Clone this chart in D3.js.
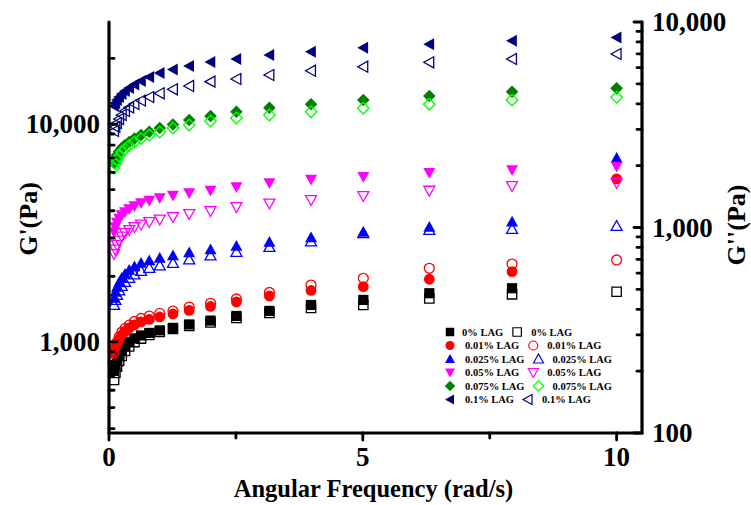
<!DOCTYPE html>
<html>
<head>
<meta charset="utf-8">
<script src="https://cdn.jsdelivr.net/npm/d3@7"></script>
<style>
  body { margin: 0; background: #fff; }
  text { font-family: "Liberation Serif", "Times New Roman", serif; font-weight: bold; fill: #000; }
</style>
</head>
<body>
<div id="chart"></div>
<script>
// Angular frequency (rad/s), 10 points per decade
const freq = [0.1, 0.126, 0.158, 0.2, 0.251, 0.316, 0.398, 0.501, 0.631, 0.794, 1,
              1.26, 1.58, 2, 2.51, 3.16, 3.98, 5.01, 6.31, 7.94, 10];

// G' (Pa), filled symbols, left axis
const gp_0    = [744, 785, 827, 872, 919, 959, 1000, 1038, 1071, 1100, 1130, 1160, 1203, 1253, 1316, 1388, 1478, 1559, 1673, 1764, null];
const gp_001  = [881, 929, 979, 1027, 1077, 1118, 1160, 1197, 1236, 1269, 1302, 1344, 1395, 1455, 1526, 1626, 1723, 1794, 1940, 2102, 5600];
const gp_0025 = [1592, 1696, 1788, 1875, 1967, 2051, 2140, 2220, 2304, 2366, 2429, 2494, 2575, 2657, 2757, 2876, 3016, 3196, 3370, 3564, 6984];
const gp_005  = [3196, 3370, 3534, 3686, 3825, 3948, 4075, 4207, 4342, 4459, 4578, 4700, 4826, 4955, 5141, 5364, 5565, 5733, 5980, 6153, 6386];
const gp_0075 = [6625, 6912, 7210, 7482, 7762, 8012, 8269, 8581, 8905, 9220, 9590, 9950, 10430, 10880, 11390, 11880, 12320, 12890, 13450, 14070, 14580];
const gp_01   = [12100, 12490, 12890, 13300, 13730, 14170, 14630, 15180, 15750, 16430, 17150, 17790, 18460, 19250, 19870, 20730, 21470, 22390, 23210, 24110, 24940];

// G'' (Pa), open symbols, right axis
const gpp_0    = [181, 196, 210, 224, 237, 251, 264, 277, 288, 300, 310, 321, 332, 345, 363, 384, 406, 420, 452, 473, 487];
const gpp_001  = [248, 262, 277, 293, 310, 323, 335, 349, 361, 371, 382, 392, 410, 428, 449, 483, 525, 566, 633, 664, 695];
const gpp_0025 = [420, 444, 469, 494, 519, 543, 568, 591, 614, 635, 653, 672, 699, 731, 760, 804, 855, 937, 972, 983, 1017];
const gpp_005  = [743, 781, 822, 864, 904, 940, 972, 1006, 1034, 1064, 1094, 1125, 1163, 1203, 1258, 1309, 1361, 1423, 1511, 1592, 1652];
const gpp_0075 = [1942, 2037, 2131, 2228, 2330, 2410, 2506, 2607, 2711, 2819, 2915, 3049, 3154, 3298, 3411, 3527, 3660, 3802, 3977, 4173, 4302];
const gpp_01   = [2948, 3084, 3225, 3373, 3527, 3689, 3837, 3990, 4150, 4315, 4498, 4705, 4883, 5124, 5281, 5523, 5794, 6060, 6366, 6607, 6987];

const labels = ["0% LAG", "0.01% LAG", "0.025% LAG", "0.05% LAG", "0.075% LAG", "0.1% LAG"];
const shapes = ["square", "circle", "up", "down", "diamond", "left"];
const fillColors = ["#000000", "#ff0000", "#0000ff", "#ff00ff", "#008000", "#000080"];
const openColors = ["#000000", "#ff0000", "#0000ff", "#ff00ff", "#00ff00", "#000080"];
const storage = [gp_0, gp_001, gp_0025, gp_005, gp_0075, gp_01];
const loss = [gpp_0, gpp_001, gpp_0025, gpp_005, gpp_0075, gpp_01];

const xTicks = [0, 5, 10], xMinor = [2.5, 7.5];
const yLeftTicks = [1000, 10000];
const yLeftMinor = [400, 500, 600, 700, 800, 900, 2000, 3000, 4000, 5000, 6000, 7000, 8000, 9000, 20000];
const yRightTicks = [100, 1000, 10000];
const yRightMinor = [200, 300, 400, 500, 600, 700, 800, 900, 2000, 3000, 4000, 5000, 6000, 7000, 8000, 9000];

const W = 751, H = 505;
const margin = {top: 22, right: 109, bottom: 72, left: 109};

const svg = d3.select("#chart").append("svg")
    .attr("width", W).attr("height", H);

const x = d3.scaleLinear().domain([0, 10.5]).range([margin.left, W - margin.right]);
const yL = d3.scaleLog().domain([382, 29400]).range([H - margin.bottom, margin.top]);
const yR = d3.scaleLog().domain([100, 10000]).range([H - margin.bottom, margin.top]);

// marker path, centred at 0,0
function shape(type, s) {
  const h = s / 2;
  switch (type) {
    case "square":  return `M${-h * 0.85},${-h * 0.85}H${h * 0.85}V${h * 0.85}H${-h * 0.85}Z`;
    case "circle":  return d3.symbol(d3.symbolCircle, Math.PI * (h * 0.9) * (h * 0.9))();
    case "up":      return `M0,${-h}L${h},${h * 0.8}L${-h},${h * 0.8}Z`;
    case "down":    return `M0,${h}L${h},${-h * 0.8}L${-h},${-h * 0.8}Z`;
    case "left":    return `M${-h},0L${h * 0.8},${-h}L${h * 0.8},${h}Z`;
    case "diamond": return `M0,${-h * 1.05}L${h * 1.05},0L0,${h * 1.05}L${-h * 1.05},0Z`;
  }
}

const plot = svg.append("g");

// filled symbols (G') first, open (G'') on top
storage.forEach((vals, i) => {
  plot.append("g").selectAll("path")
    .data(freq.map((f, j) => [f, vals[j]]).filter(d => d[1] != null))
    .join("path")
    .attr("d", shape(shapes[i], 12))
    .attr("transform", d => `translate(${x(d[0])},${yL(d[1])})`)
    .attr("fill", fillColors[i]);
});
loss.forEach((vals, i) => {
  plot.append("g").selectAll("path")
    .data(freq.map((f, j) => [f, vals[j]]))
    .join("path")
    .attr("d", shape(shapes[i], 11))
    .attr("transform", d => `translate(${x(d[0])},${yR(d[1])})`)
    .attr("fill", "none")
    .attr("stroke", openColors[i])
    .attr("stroke-width", 1.3);
});

// axes
const x0 = x(0), x1 = x(10.5), yb = yL.range()[0], yt = yL.range()[1];
const axis = svg.append("g").attr("stroke", "#000").attr("stroke-linecap", "round");
axis.append("path").attr("d", `M${x0},${yt}V${yb}H${x1}V${yt}`)
    .attr("fill", "none").attr("stroke-width", 3.2).attr("stroke-linejoin", "miter");

const tk = axis.append("g").attr("stroke-width", 2.8);
xTicks.forEach(v => tk.append("line").attr("x1", x(v)).attr("x2", x(v)).attr("y1", yb).attr("y2", yb + 7));
xMinor.forEach(v => tk.append("line").attr("x1", x(v)).attr("x2", x(v)).attr("y1", yb).attr("y2", yb + 5));
yLeftTicks.forEach(v => tk.append("line").attr("x1", x0).attr("x2", x0 + 8).attr("y1", yL(v)).attr("y2", yL(v)));
yLeftMinor.forEach(v => tk.append("line").attr("x1", x0).attr("x2", x0 + 5).attr("y1", yL(v)).attr("y2", yL(v)));
yRightTicks.forEach(v => tk.append("line").attr("x1", x1).attr("x2", x1 - 8).attr("y1", yR(v)).attr("y2", yR(v)));
yRightMinor.forEach(v => tk.append("line").attr("x1", x1).attr("x2", x1 - 5).attr("y1", yR(v)).attr("y2", yR(v)));

const fmt = d3.format(",");
svg.append("g").selectAll("text").data(xTicks).join("text")
    .attr("x", d => x(d)).attr("y", yb + 33)
    .attr("text-anchor", "middle").style("font-size", "27px").text(d => d);
svg.append("g").selectAll("text").data(yLeftTicks).join("text")
    .attr("x", x0 - 9).attr("y", d => yL(d)).attr("dy", "0.35em")
    .attr("text-anchor", "end").style("font-size", "27px").text(d => fmt(d));
svg.append("g").selectAll("text").data(yRightTicks).join("text")
    .attr("x", x1 + 10).attr("y", d => yR(d)).attr("dy", "0.35em")
    .attr("text-anchor", "start").style("font-size", "27px").text(d => fmt(d));

svg.append("text").attr("x", (x0 + x1) / 2 - 2).attr("y", 497)
    .attr("text-anchor", "middle").style("font-size", "24.5px").text("Angular Frequency (rad/s)");
svg.append("text").attr("transform", "translate(37,219) rotate(-90)")
    .attr("text-anchor", "middle").style("font-size", "26px").text("G'(Pa)");
svg.append("text").attr("transform", "translate(745,225) rotate(-90)")
    .attr("text-anchor", "middle").style("font-size", "26px").text("G''(Pa)");

// legend
const legend = svg.append("g");
labels.forEach((lab, i) => {
  const ly = 332 + i * 13.5;
  legend.append("path").attr("d", shape(shapes[i], 10))
      .attr("transform", `translate(450,${ly})`).attr("fill", fillColors[i]);
  const t1 = legend.append("text").attr("x", i === 0 ? 462 : 465).attr("y", ly).attr("dy", "0.35em")
      .style("font-size", "10.5px").text(lab);
  const end = +t1.attr("x") + t1.node().getComputedTextLength();
  const ox = end + 14;
  legend.append("path").attr("d", shape(shapes[i], 10))
      .attr("transform", `translate(${ox},${ly})`)
      .attr("fill", "none").attr("stroke", openColors[i]).attr("stroke-width", 1.2);
  legend.append("text").attr("x", ox + 14).attr("y", ly).attr("dy", "0.35em")
      .style("font-size", "10.5px").text(lab);
});
</script>
</body>
</html>
